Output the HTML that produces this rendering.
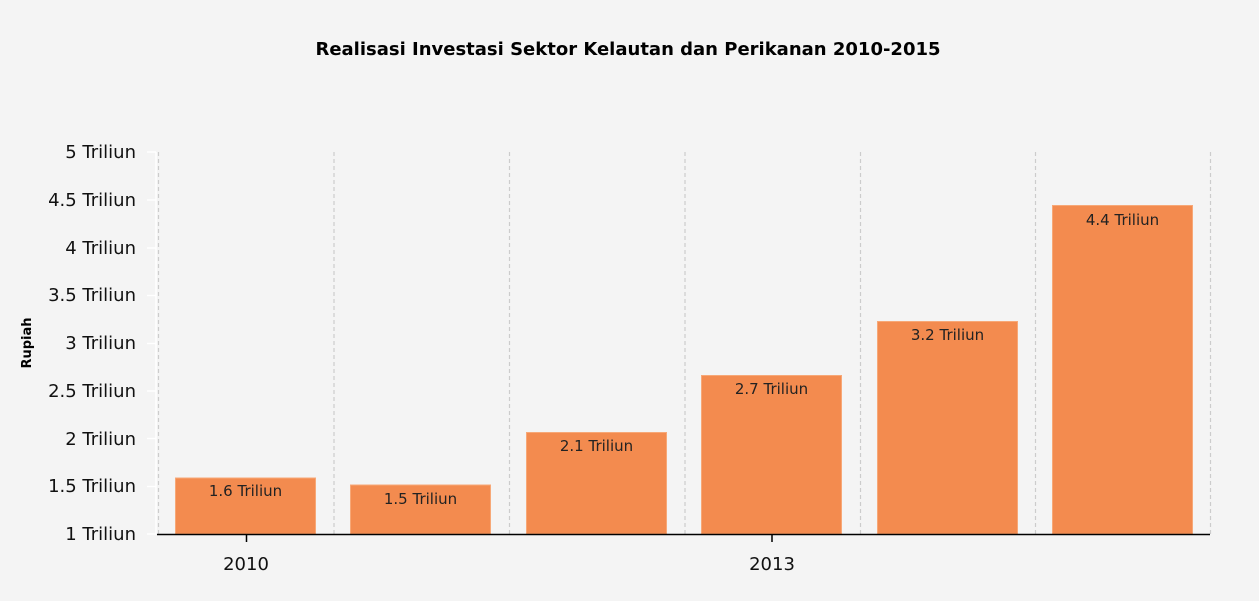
<!DOCTYPE html>
<html><head><meta charset="utf-8"><style>
html,body{margin:0;padding:0;background:#f4f4f4;}
svg{display:block;}
text{font-family:"DejaVu Sans","Liberation Sans",sans-serif;}
</style></head><body>
<svg width="1259" height="601" viewBox="0 0 1259 601" xmlns="http://www.w3.org/2000/svg">
<rect width="1259" height="601" fill="#f4f4f4"/>
<text x="628" y="55" text-anchor="middle" font-size="18" font-weight="bold" fill="#000">Realisasi Investasi Sektor Kelautan dan Perikanan 2010-2015</text>
<g stroke="#ccc" stroke-dasharray="4,3" stroke-width="1.2">
<line x1="158.5" y1="152" x2="158.5" y2="534"/>
<line x1="334" y1="152" x2="334" y2="534"/>
<line x1="509.5" y1="152" x2="509.5" y2="534"/>
<line x1="685" y1="152" x2="685" y2="534"/>
<line x1="860.5" y1="152" x2="860.5" y2="534"/>
<line x1="1035.5" y1="152" x2="1035.5" y2="534"/>
<line x1="1210.5" y1="152" x2="1210.5" y2="534"/>
</g>
<g stroke="#fff" stroke-width="1.5">
<line x1="147" y1="152" x2="156" y2="152"/><line x1="147" y1="200" x2="156" y2="200"/>
<line x1="147" y1="248" x2="156" y2="248"/><line x1="147" y1="295.5" x2="156" y2="295.5"/>
<line x1="147" y1="343.5" x2="156" y2="343.5"/><line x1="147" y1="391" x2="156" y2="391"/>
<line x1="147" y1="438.5" x2="156" y2="438.5"/><line x1="147" y1="486.5" x2="156" y2="486.5"/>
<line x1="147" y1="534" x2="156" y2="534"/><line x1="156" y1="152" x2="156" y2="534"/>
</g>
<g font-size="18" fill="#111" text-anchor="end">
<text x="136" y="158">5 Triliun</text><text x="136" y="206">4.5 Triliun</text>
<text x="136" y="254">4 Triliun</text><text x="136" y="301">3.5 Triliun</text>
<text x="136" y="349">3 Triliun</text><text x="136" y="397">2.5 Triliun</text>
<text x="136" y="445">2 Triliun</text><text x="136" y="492">1.5 Triliun</text>
<text x="136" y="540">1 Triliun</text>
</g>
<text transform="translate(31,343) rotate(-90)" text-anchor="middle" font-size="13" font-weight="bold">Rupiah</text>
<g fill="#f38b4f" stroke="#f7a877" stroke-width="1">
<rect x="175.5" y="478" width="140" height="56"/>
<rect x="350.5" y="485" width="140" height="49"/>
<rect x="526.5" y="432.5" width="140" height="101.5"/>
<rect x="701.5" y="375.5" width="140" height="158.5"/>
<rect x="877.5" y="321.5" width="140" height="212.5"/>
<rect x="1052.5" y="205.5" width="140" height="328.5"/>
</g>
<g font-size="15" fill="#222" text-anchor="middle">
<text x="245.5" y="496">1.6 Triliun</text>
<text x="420.5" y="504">1.5 Triliun</text>
<text x="596.5" y="451">2.1 Triliun</text>
<text x="771.5" y="394">2.7 Triliun</text>
<text x="947.5" y="340">3.2 Triliun</text>
<text x="1122.5" y="225">4.4 Triliun</text>
</g>
<line x1="157" y1="534.5" x2="1210" y2="534.5" stroke="#000" stroke-width="1.5"/>
<line x1="246.5" y1="534" x2="246.5" y2="542" stroke="#000" stroke-width="1.5"/>
<line x1="772" y1="534" x2="772" y2="542" stroke="#000" stroke-width="1.5"/>
<g font-size="18" fill="#111" text-anchor="middle">
<text x="246" y="570">2010</text><text x="772" y="570">2013</text>
</g>
</svg>
</body></html>
